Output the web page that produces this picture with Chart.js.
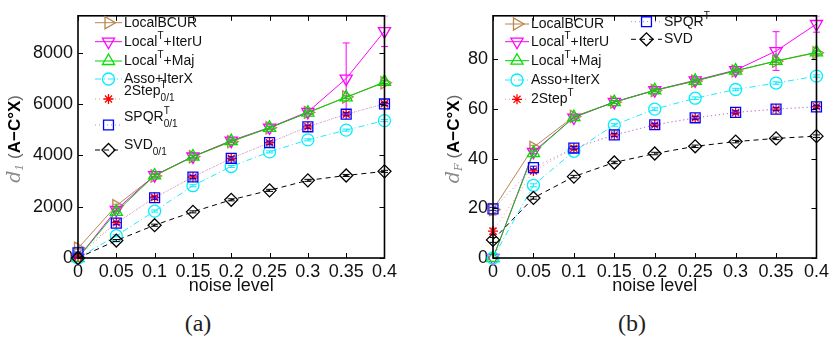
<!DOCTYPE html>
<html>
<head>
<meta charset="utf-8">
<script src="https://cdn.jsdelivr.net/npm/chart.js@4.4.1/dist/chart.umd.min.js"></script>
<style>
  body { margin: 0; background: #fff; width: 832px; height: 344px; overflow: hidden; position: relative; }
  .panel { position: absolute; top: 0; height: 300px; }
  #panelA { left: 0; width: 400px; }
  #panelB { left: 410px; width: 422px; }
  .cap { position: absolute; top: 310px; font: 24px "Liberation Serif", serif; color: #222; transform: translateX(-50%); }
</style>
</head>
<body>
<div class="panel" id="panelA"><canvas id="chartA"></canvas></div>
<div class="panel" id="panelB"><canvas id="chartB"></canvas></div>
<div class="cap" style="left:198px">(a)</div>
<div class="cap" style="left:632px">(b)</div>
<script>
// noise levels on the x axis
const noise = [0, 0.05, 0.1, 0.15, 0.2, 0.25, 0.3, 0.35, 0.4];

// (a) d_1 distance
const bcurD1    = [380, 2040, 3200, 3950, 4540, 5080, 5680, 6280, 6840];
const iterUD1   = [0, 1880, 3230, 3960, 4580, 5090, 5700, 7000, 8850];
const majD1     = [0, 1800, 3220, 3960, 4560, 5080, 5670, 6270, 6870];
const assoD1    = [0, 870, 1830, 2820, 3570, 4140, 4610, 4990, 5360];
const twoStepD1 = [60, 1380, 2360, 3160, 3890, 4500, 5120, 5610, 6020];
const spqrD1    = [200, 1360, 2350, 3160, 3890, 4500, 5120, 5610, 6010];
const svdD1     = [0, 680, 1280, 1800, 2270, 2640, 3030, 3220, 3380];

// (a) standard deviations
const bcurErrD1    = [40, 60, 50, 50, 50, 50, 50, 50, 60];
const iterUErrD1   = [0, 60, 60, 60, 60, 60, 80, 1390, 600];
const majErrD1     = [0, 60, 50, 50, 50, 50, 50, 50, 60];
const assoErrD1    = [0, 40, 40, 40, 40, 40, 40, 40, 40];
const twoStepErrD1 = [30, 60, 60, 60, 60, 60, 60, 60, 60];
const spqrErrD1    = [30, 60, 60, 60, 60, 60, 60, 60, 60];
const svdErrD1     = [0, 40, 40, 40, 40, 40, 40, 40, 40];

// (b) d_F distance
const bcurDF    = [19.5, 44.6, 57.0, 62.8, 67.5, 71.3, 75.4, 79.3, 82.7];
const iterUDF   = [0, 42.8, 56.6, 62.9, 67.6, 71.6, 75.7, 83.4, 94.3];
const majDF     = [0, 42.3, 56.8, 62.8, 67.6, 71.4, 75.5, 79.4, 82.9];
const assoDF    = [0, 29.3, 43.0, 53.6, 60.0, 64.4, 67.9, 70.5, 73.3];
const twoStepDF = [10.8, 35.1, 44.2, 49.6, 53.6, 56.4, 58.6, 60.0, 61.0];
const spqrDF    = [19.8, 36.4, 44.3, 49.6, 53.7, 56.5, 58.7, 60.0, 60.9];
const svdDF     = [7.3, 24.2, 32.8, 38.5, 42.1, 45.0, 46.9, 48.2, 49.1];

// (b) standard deviations
const bcurErrDF    = [2.2, 0.8, 0.5, 0.5, 0.5, 0.5, 0.5, 0.5, 0.6];
const iterUErrDF   = [0, 0.8, 0.6, 0.6, 0.6, 0.6, 0.8, 7.8, 3.3];
const majErrDF     = [0, 0.8, 0.5, 0.5, 0.5, 0.5, 0.5, 0.5, 0.6];
const assoErrDF    = [0, 0.6, 0.5, 0.5, 0.5, 0.5, 0.5, 0.5, 0.5];
const twoStepErrDF = [1.2, 0.8, 0.6, 0.6, 0.6, 0.6, 0.6, 0.6, 0.6];
const spqrErrDF    = [0.6, 0.6, 0.6, 0.6, 0.6, 0.6, 0.6, 0.6, 0.6];
const svdErrDF     = [1.0, 0.5, 0.5, 0.5, 0.5, 0.5, 0.5, 0.5, 0.5];

const namesA = ['LocalBCUR', 'Local^{T}+IterU', 'Local^{T}+Maj', 'Asso+IterX',
                '2Step^{T}_{0/1}', 'SPQR^{T}_{0/1}', 'SVD_{0/1}'];
const namesB = ['LocalBCUR', 'Local^{T}+IterU', 'Local^{T}+Maj', 'Asso+IterX',
                '2Step^{T}', 'SPQR^{T}', 'SVD'];

const xTicks = [0, 0.05, 0.1, 0.15, 0.2, 0.25, 0.3, 0.35, 0.4];
const yTicksA = [0, 2000, 4000, 6000, 8000];
const yTicksB = [0, 20, 40, 60, 80];

// line/marker style for each method
const styles = [
  { color: '#b8864e', line: '#b8864e', dash: [],           pointStyle: 'triangle', rotation: 90,  radius: 7 },
  { color: '#ff00ff', line: '#ff00ff', dash: [],           pointStyle: 'triangle', rotation: 180, radius: 7 },
  { color: '#00e000', line: '#00d000', dash: [],           pointStyle: 'triangle', rotation: 0,   radius: 7 },
  { color: '#00eeff', line: '#22e8ff', dash: [6, 3, 1, 3], pointStyle: 'circle',   rotation: 0,   radius: 6 },
  { color: '#ff0000', line: '#ff8c8c', dash: [1, 3],       pointStyle: 'star',     rotation: 0,   radius: 5 },
  { color: '#0000ff', line: '#9a8cf0', dash: [1, 3],       pointStyle: 'rect',     rotation: 0,   radius: 7 },
  { color: '#000000', line: '#000000', dash: [5, 4],       pointStyle: 'rectRot',  rotation: 0,   radius: 6.5 }
];

const FONT = '"Liberation Sans", Arial, sans-serif';

function buildDatasets(series, errs, names) {
  return series.map((vals, i) => {
    const s = styles[i];
    return {
      label: names[i],
      data: noise.map((x, k) => ({ x: x, y: vals[k] })),
      err: errs[i],
      borderColor: s.line,
      borderWidth: 1,
      borderDash: s.dash,
      pointStyle: s.pointStyle,
      rotation: s.rotation,
      pointRadius: s.radius,
      pointBorderWidth: 1.3,
      pointBorderColor: s.color,
      pointBackgroundColor: 'rgba(0,0,0,0)',
      pointHoverRadius: s.radius,
      tension: 0,
      fill: false,
      clip: false,
      order: -i
    };
  });
}

// text with ^{..} and _{..} scripts; stacked when both follow each other
function drawRich(ctx, str, x, y, size, color) {
  const parts = str.split(/(\^\{[^}]*\}|_\{[^}]*\})/).filter(p => p.length);
  let cx = x, scriptStart = null, scriptW = 0;
  ctx.fillStyle = color;
  ctx.textBaseline = 'middle';
  ctx.textAlign = 'left';
  parts.forEach(p => {
    const isSup = p.startsWith('^{'), isSub = p.startsWith('_{');
    if (isSup || isSub) {
      const t = p.slice(2, -1);
      ctx.font = Math.round(size * 0.72) + 'px ' + FONT;
      if (scriptStart === null) { scriptStart = cx; scriptW = 0; }
      const w = ctx.measureText(t).width;
      ctx.fillText(t, scriptStart, y + (isSup ? -size * 0.42 : size * 0.5));
      scriptW = Math.max(scriptW, w);
      cx = scriptStart + scriptW;
    } else {
      scriptStart = null;
      ctx.font = size + 'px ' + FONT;
      ctx.fillText(p, cx, y);
      cx += ctx.measureText(p).width;
    }
  });
}

function drawMarker(ctx, st, x, y) {
  ctx.strokeStyle = st.color;
  ctx.fillStyle = 'rgba(0,0,0,0)';
  ctx.lineWidth = 1.3;
  ctx.setLineDash([]);
  Chart.helpers.drawPoint(ctx, { pointStyle: st.pointStyle, rotation: st.rotation, radius: st.radius, borderWidth: 1.3 }, x, y);
}

// error bars, drawn just before each dataset's own line and markers
const errorBars = {
  id: 'errorBars',
  beforeDatasetDraw(chart, args) {
    const ds = chart.data.datasets[args.index];
    if (!ds.err) return;
    const { ctx, chartArea, scales } = chart;
    ctx.save();
    ctx.beginPath();
    ctx.rect(chartArea.left - 10, chartArea.top, chartArea.right - chartArea.left + 20, chartArea.bottom - chartArea.top + 10);
    ctx.clip();
    ctx.strokeStyle = ds.pointBorderColor;
    ctx.lineWidth = 1;
    ctx.setLineDash([]);
    ds.data.forEach((p, k) => {
      const e = ds.err[k];
      if (!e) return;
      const px = scales.x.getPixelForValue(p.x);
      const y1 = scales.y.getPixelForValue(p.y + e);
      const y2 = scales.y.getPixelForValue(p.y - e);
      ctx.beginPath();
      ctx.moveTo(px, y1); ctx.lineTo(px, y2);
      ctx.moveTo(px - 3.5, y1); ctx.lineTo(px + 3.5, y1);
      ctx.moveTo(px - 3.5, y2); ctx.lineTo(px + 3.5, y2);
      ctx.stroke();
    });
    ctx.restore();
  }
};

// axes box with inward ticks, axis titles and the legend
const decor = {
  id: 'decor',
  afterDraw(chart, args, opts) {
    const { ctx, chartArea: a, scales } = chart;
    ctx.save();
    ctx.setLineDash([]);
    ctx.strokeStyle = '#000';
    ctx.lineWidth = 1;
    ctx.beginPath();
    scales.x.ticks.forEach(t => {
      const px = Math.round(scales.x.getPixelForValue(t.value)) + 0.5;
      ctx.moveTo(px, a.bottom); ctx.lineTo(px, a.bottom - 5);
      ctx.moveTo(px, a.top); ctx.lineTo(px, a.top + 5);
    });
    scales.y.ticks.forEach(t => {
      const py = Math.round(scales.y.getPixelForValue(t.value)) + 0.5;
      ctx.moveTo(a.left, py); ctx.lineTo(a.left + 5, py);
      ctx.moveTo(a.right, py); ctx.lineTo(a.right - 5, py);
    });
    ctx.stroke();
    ctx.lineWidth = 1.6;
    ctx.strokeRect(a.left, a.top, a.right - a.left, a.bottom - a.top);

    // x title
    ctx.fillStyle = '#111';
    ctx.font = '18px ' + FONT;
    ctx.textAlign = 'center';
    ctx.textBaseline = 'middle';
    ctx.fillText('noise level', (a.left + a.right) / 2, 286);

    // y title, rotated: d_sub (A−C°X)
    ctx.save();
    ctx.translate(opts.titleX, (a.top + a.bottom) / 2 + 2);
    ctx.rotate(-Math.PI / 2);
    const pieces = [
      { t: 'd', f: 'italic 19px "DejaVu Serif", serif', c: '#8a8a8a', dy: 0 },
      { t: opts.sub, f: 'italic 11px "DejaVu Serif", serif', c: '#8a8a8a', dy: 5 },
      { t: ' (', f: '17px ' + FONT, c: '#666', dy: 0 },
      { t: 'A\u2212C\u00b0X', f: 'bold 17px ' + FONT, c: '#000', dy: 0 },
      { t: ')', f: '17px ' + FONT, c: '#666', dy: 0 }
    ];
    let total = 0;
    pieces.forEach(p => { ctx.font = p.f; p.w = ctx.measureText(p.t).width; total += p.w; });
    let cx = -total / 2;
    ctx.textAlign = 'left';
    pieces.forEach(p => {
      ctx.font = p.f; ctx.fillStyle = p.c;
      ctx.fillText(p.t, cx, p.dy);
      cx += p.w;
    });
    ctx.restore();

    // legend
    opts.rows.forEach(r => {
      const st = styles[r.i];
      ctx.strokeStyle = st.line;
      ctx.lineWidth = 1;
      ctx.setLineDash(st.dash);
      ctx.beginPath();
      ctx.moveTo(r.x0, r.y); ctx.lineTo(r.x1, r.y);
      ctx.stroke();
      drawMarker(ctx, st, (r.x0 + r.x1) / 2, r.y);
      drawRich(ctx, chart.data.datasets[r.i].label, r.x1 + 2, r.y + (r.dy || 0), 14, '#111');
    });
    ctx.restore();
  }
};

function makeChart(id, datasets, yMax, yTicks, yWidth, padRight, deco) {
  return new Chart(document.getElementById(id), {
    type: 'line',
    data: { datasets: datasets },
    plugins: [errorBars, decor],
    options: {
      responsive: true,
      maintainAspectRatio: false,
      animation: false,
      layout: { padding: { top: 4, right: padRight, left: 0, bottom: 0 } },
      plugins: { legend: { display: false }, tooltip: { enabled: false }, decor: deco },
      scales: {
        x: {
          type: 'linear', min: 0, max: 0.4,
          afterBuildTicks(s) { s.ticks = xTicks.map(v => ({ value: v })); },
          afterFit(s) { s.height = 42; },
          grid: { display: false, drawTicks: false },
          border: { display: false },
          ticks: { autoSkip: false, maxRotation: 0, padding: 3, color: '#111',
                   font: { family: FONT, size: 18 }, callback: v => String(v) }
        },
        y: {
          type: 'linear', min: 0, max: yMax,
          afterBuildTicks(s) { s.ticks = yTicks.map(v => ({ value: v })); },
          afterFit(s) { s.width = yWidth; },
          grid: { display: false, drawTicks: false },
          border: { display: false },
          ticks: { padding: 5, color: '#111', font: { family: FONT, size: 18 }, callback: v => String(v) }
        }
      }
    }
  });
}

makeChart('chartA',
  buildDatasets([bcurD1, iterUD1, majD1, assoD1, twoStepD1, spqrD1, svdD1],
                [bcurErrD1, iterUErrD1, majErrD1, assoErrD1, twoStepErrD1, spqrErrD1, svdErrD1], namesA),
  9450, yTicksA, 78, 14,
  { titleX: 15, sub: '1', rows: [
    { i: 0, x0: 95, x1: 122, y: 22.7 },
    { i: 1, x0: 95, x1: 122, y: 41.7 },
    { i: 2, x0: 95, x1: 122, y: 61 },
    { i: 3, x0: 95, x1: 122, y: 79 },
    { i: 4, x0: 95, x1: 122, y: 99, dy: -8 },
    { i: 5, x0: 95, x1: 122, y: 125, dy: -8 },
    { i: 6, x0: 95, x1: 122, y: 150, dy: -5 }
  ] });

makeChart('chartB',
  buildDatasets([bcurDF, iterUDF, majDF, assoDF, twoStepDF, spqrDF, svdDF],
                [bcurErrDF, iterUErrDF, majErrDF, assoErrDF, twoStepErrDF, spqrErrDF, svdErrDF], namesB),
  97.6, yTicksB, 83, 10,
  { titleX: 44, sub: 'F', rows: [
    { i: 0, x0: 95, x1: 119, y: 24 },
    { i: 1, x0: 95, x1: 119, y: 41.7 },
    { i: 2, x0: 95, x1: 119, y: 60.7 },
    { i: 3, x0: 95, x1: 119, y: 80 },
    { i: 4, x0: 95, x1: 119, y: 99.3 },
    { i: 5, x0: 221, x1: 252, y: 21.7 },
    { i: 6, x0: 221, x1: 252, y: 39.3 }
  ] });
</script>
</body>
</html>
